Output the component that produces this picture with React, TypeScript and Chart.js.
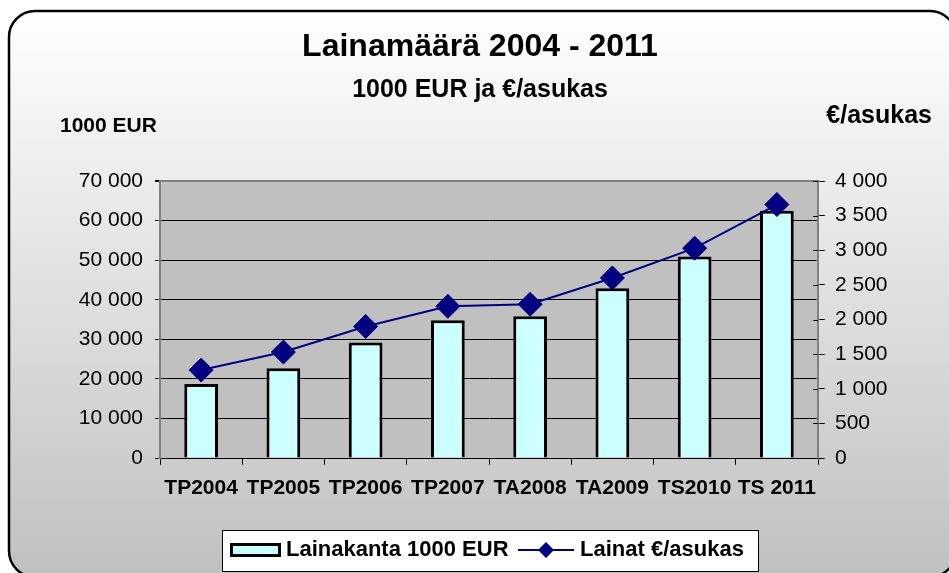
import React, { useEffect, useRef } from "react";
import { Chart, registerables } from "chart.js";

Chart.register(...registerables);

const categories = ["TP2004", "TP2005", "TP2006", "TP2007", "TA2008", "TA2009", "TS2010", "TS 2011"];
const loanStock = [18700, 22700, 29200, 34800, 35800, 42900, 50900, 62500];
const loanPerResident = [1270, 1530, 1900, 2190, 2220, 2600, 3030, 3660];
const leftAxis = { min: 0, max: 70000, step: 10000 };
const rightAxis = { min: 0, max: 4000, step: 500 };

const titleText = "Lainamäärä 2004 - 2011";
const subtitleText = "1000 EUR ja €/asukas";
const leftAxisTitle = "1000 EUR";
const rightAxisTitle = "€/asukas";
const barLabel = "Lainakanta 1000 EUR";
const lineLabel = "Lainat €/asukas";

const FONT = "'Liberation Sans', Arial, sans-serif";
const W = 949;
const H = 573;

const fmt = (v: number) => String(v).replace(/\B(?=(\d{3})+(?!\d))/g, " ");

function roundRectPath(ctx: CanvasRenderingContext2D, x: number, y: number, w: number, h: number, r: number) {
  ctx.beginPath();
  ctx.moveTo(x + r, y);
  ctx.lineTo(x + w - r, y);
  ctx.arcTo(x + w, y, x + w, y + r, r);
  ctx.lineTo(x + w, y + h - r);
  ctx.arcTo(x + w, y + h, x + w - r, y + h, r);
  ctx.lineTo(x + r, y + h);
  ctx.arcTo(x, y + h, x, y + h - r, r);
  ctx.lineTo(x, y + r);
  ctx.arcTo(x, y, x + r, y, r);
  ctx.closePath();
}

const decorPlugin = {
  id: "decor",
  beforeDraw(chart: any) {
    const ctx: CanvasRenderingContext2D = chart.ctx;
    ctx.save();
    ctx.fillStyle = "#ffffff";
    ctx.fillRect(0, 0, W, H);
    const g = ctx.createLinearGradient(0, 11, 0, 577);
    g.addColorStop(0, "#ffffff");
    g.addColorStop(1, "#c0c0c0");
    roundRectPath(ctx, 9, 11, 947, 566, 26);
    ctx.fillStyle = g;
    ctx.fill();
    ctx.lineWidth = 2.5;
    ctx.strokeStyle = "#000000";
    ctx.stroke();
    const a = chart.chartArea;
    ctx.fillStyle = "#c0c0c0";
    ctx.fillRect(a.left, a.top, a.right - a.left, a.bottom - a.top);
    ctx.restore();
  },
  afterDraw(chart: any) {
    const ctx: CanvasRenderingContext2D = chart.ctx;
    ctx.save();
    // inner tick marks of the right axis
    const y1 = chart.scales.y1;
    const a = chart.chartArea;
    ctx.strokeStyle = "#000";
    ctx.lineWidth = 1;
    y1.ticks.forEach((t: any) => {
      const py = Math.round(y1.getPixelForValue(t.value)) + 0.5;
      ctx.beginPath();
      ctx.moveTo(a.right - 5, py);
      ctx.lineTo(a.right, py);
      ctx.stroke();
    });

    // titles
    ctx.fillStyle = "#000";
    ctx.textBaseline = "middle";
    ctx.textAlign = "center";
    ctx.font = `bold 32px ${FONT}`;
    ctx.fillText(titleText, 480, 47);
    ctx.font = `bold 25px ${FONT}`;
    ctx.fillText(subtitleText, 480, 90);
    ctx.textAlign = "left";
    ctx.font = `bold 21px ${FONT}`;
    ctx.fillText(leftAxisTitle, 60, 126);
    ctx.textAlign = "right";
    ctx.font = `bold 25px ${FONT}`;
    ctx.fillText(rightAxisTitle, 932, 116);

    // legend
    const barDs = chart.data.datasets[1];
    const lineDs = chart.data.datasets[0];
    ctx.fillStyle = "#ffffff";
    ctx.fillRect(222, 530, 536, 41);
    ctx.strokeStyle = "#000";
    ctx.lineWidth = 1;
    ctx.strokeRect(222.5, 530.5, 536, 41);
    const ly = 550;
    ctx.fillStyle = barDs.backgroundColor;
    ctx.fillRect(230, 544, 51, 12);
    ctx.strokeStyle = barDs.borderColor;
    ctx.lineWidth = 3;
    ctx.strokeRect(231.5, 544.5, 48, 11);
    ctx.fillStyle = "#000";
    ctx.textAlign = "left";
    ctx.font = `bold 22px ${FONT}`;
    ctx.fillText(barLabel, 286, ly);
    ctx.strokeStyle = lineDs.borderColor;
    ctx.lineWidth = 2;
    ctx.beginPath();
    ctx.moveTo(518, ly);
    ctx.lineTo(574, ly);
    ctx.stroke();
    ctx.fillStyle = lineDs.pointBackgroundColor;
    ctx.beginPath();
    ctx.moveTo(546, ly - 8);
    ctx.lineTo(554, ly);
    ctx.lineTo(546, ly + 8);
    ctx.lineTo(538, ly);
    ctx.closePath();
    ctx.fill();
    ctx.fillStyle = "#000";
    ctx.fillText(lineLabel, 580, ly);
    ctx.restore();
  },
};

export default function App() {
  const ref = useRef<HTMLCanvasElement | null>(null);
  useEffect(() => {
    if (!ref.current) return;
    const chart = new Chart(ref.current, {
      type: "bar",
      data: {
        labels: categories,
        datasets: [
          {
            type: "line",
            label: lineLabel,
            data: loanPerResident,
            yAxisID: "y1",
            order: 0,
            borderColor: "#000080",
            backgroundColor: "#000080",
            borderWidth: 2,
            pointStyle: "rectRot",
            pointRadius: 12,
            pointBackgroundColor: "#000080",
            pointBorderColor: "#000080",
            pointBorderWidth: 1,
            tension: 0,
          } as any,
          {
            type: "bar",
            label: barLabel,
            data: loanStock,
            yAxisID: "y",
            order: 1,
            backgroundColor: "#ccffff",
            borderColor: "#000000",
            borderWidth: 3,
            barPercentage: 0.41,
            categoryPercentage: 1,
          } as any,
        ],
      },
      options: {
        responsive: false,
        animation: false,
        layout: { padding: { top: 181, bottom: 75, left: 0, right: 0 } },
        plugins: {
          legend: { display: false },
          title: { display: false },
          tooltip: { enabled: false },
        },
        scales: {
          x: {
            offset: true,
            grid: { offset: true, drawOnChartArea: false, color: "#000", tickLength: 7 },
            border: { color: "#000", width: 1 },
            ticks: {
              color: "#000",
              font: { family: FONT, size: 21, weight: "bold" },
              autoSkip: false,
              maxRotation: 0,
              minRotation: 0,
              padding: 11,
            },
            afterFit: (s: any) => {
              s.height = 40;
            },
          },
          y: {
            position: "left",
            min: leftAxis.min,
            max: leftAxis.max,
            ticks: {
              stepSize: leftAxis.step,
              color: "#000",
              font: { family: FONT, size: 21 },
              padding: 12,
              callback: (v: any) => fmt(Number(v)),
            },
            grid: {
              color: (c: any) => (c.tick && c.tick.value === leftAxis.max ? "#808080" : "#000"),
              lineWidth: (c: any) => (c.tick && c.tick.value === leftAxis.max ? 2 : 1),
              tickColor: "#000",
              tickLength: 5,
            },
            border: { color: "#808080", width: 2 },
            afterFit: (s: any) => {
              s.width = 160;
            },
          },
          y1: {
            position: "right",
            min: rightAxis.min,
            max: rightAxis.max,
            ticks: {
              stepSize: rightAxis.step,
              color: "#000",
              font: { family: FONT, size: 21 },
              padding: 10,
              callback: (v: any) => fmt(Number(v)),
            },
            grid: { drawOnChartArea: false, color: "#000", tickLength: 7 },
            border: { color: "#808080", width: 2 },
            afterFit: (s: any) => {
              s.width = 131;
            },
          },
        },
      },
      plugins: [decorPlugin],
    });
    return () => chart.destroy();
  }, []);
  return (
    <canvas
      ref={ref}
      width={W}
      height={H}
      style={{ position: "fixed", left: 0, top: 0, width: W, height: H, display: "block" }}
    />
  );
}
